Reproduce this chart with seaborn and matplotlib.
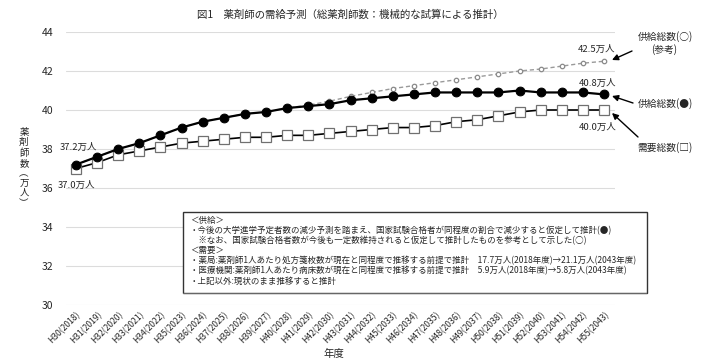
import matplotlib
matplotlib.use('Agg')
import matplotlib.pyplot as plt
from matplotlib.patches import Rectangle
import seaborn as sns
import pandas as pd

# 年度ラベル
years = ['H30(2018)', 'H31(2019)', 'H32(2020)', 'H33(2021)', 'H34(2022)', 'H35(2023)',
         'H36(2024)', 'H37(2025)', 'H38(2026)', 'H39(2027)', 'H40(2028)', 'H41(2029)',
         'H42(2030)', 'H43(2031)', 'H44(2032)', 'H45(2033)', 'H46(2034)', 'H47(2035)',
         'H48(2036)', 'H49(2037)', 'H50(2038)', 'H51(2039)', 'H52(2040)', 'H53(2041)',
         'H54(2042)', 'H55(2043)']

supply = [37.2, 37.6, 38.0, 38.3, 38.7, 39.1, 39.4, 39.6, 39.8, 39.9, 40.1, 40.2, 40.3,
          40.5, 40.6, 40.7, 40.8, 40.9, 40.9, 40.9, 40.9, 41.0, 40.9, 40.9, 40.9, 40.8]
supply_ref = [37.2, 37.6, 38.0, 38.3, 38.7, 39.1, 39.4, 39.6, 39.8, 39.9, 40.1, 40.25, 40.45,
              40.7, 40.9, 41.1, 41.25, 41.4, 41.55, 41.7, 41.85, 42.0, 42.1, 42.25, 42.4, 42.5]
demand = [37.0, 37.3, 37.7, 37.9, 38.1, 38.3, 38.4, 38.5, 38.6, 38.6, 38.7, 38.7, 38.8,
          38.9, 39.0, 39.1, 39.1, 39.2, 39.4, 39.5, 39.7, 39.9, 40.0, 40.0, 40.0, 40.0]

yticks = [30, 32, 34, 36, 38, 40, 42, 44]

note_lines = [
    '＜供給＞',
    '・今後の大学進学予定者数の減少予測を踏まえ、国家試験合格者が同程度の割合で減少すると仮定して推計(●)',
    '　※なお、国家試験合格者数が今後も一定数維持されると仮定して推計したものを参考として示した(○)',
    '＜需要＞',
    '・薬局:薬剤師1人あたり処方箋枚数が現在と同程度で推移する前提で推計　17.7万人(2018年度)→21.1万人(2043年度)',
    '・医療機関:薬剤師1人あたり病床数が現在と同程度で推移する前提で推計　5.9万人(2018年度)→5.8万人(2043年度)',
    '・上記以外:現状のまま推移すると推計',
]

df = pd.DataFrame({'x': range(len(years)), 'supply': supply,
                   'ref': supply_ref, 'demand': demand})

sns.set_theme(style='white')
plt.rcParams['font.family'] = ['Noto Sans CJK JP', 'DejaVu Sans']

W, H = 707, 362
fig = plt.figure(figsize=(W / 100, H / 100), dpi=100)
ax = fig.add_axes([66 / W, 1 - 305 / H, (615 - 66) / W, (305 - 32) / H])

sns.lineplot(data=df, x='x', y='ref', ax=ax, color='#9a9a9a', lw=1.0,
             linestyle=(0, (3, 2)), marker='o', markersize=3.2,
             markerfacecolor='white', markeredgecolor='#8a8a8a', markeredgewidth=0.9)
sns.lineplot(data=df, x='x', y='demand', ax=ax, color='black', lw=1.2,
             marker='s', markersize=6.8, markerfacecolor='white',
             markeredgecolor='#707070', markeredgewidth=0.9)
sns.lineplot(data=df, x='x', y='supply', ax=ax, color='black', lw=1.6,
             marker='o', markersize=6.3, markerfacecolor='black', markeredgecolor='black')

ax.set_xlim(-0.47, len(years) - 0.48)
ax.set_ylim(30, 44)
ax.set_yticks(yticks)
ax.set_yticklabels([str(v) for v in yticks], fontsize=7.5)
ax.set_xticks(range(len(years)))
ax.set_xticklabels(years, rotation=45, ha='right', rotation_mode='anchor', fontsize=6.2)
ax.tick_params(axis='x', length=0, pad=4)
ax.tick_params(axis='y', length=0, pad=9)
ax.yaxis.grid(True, color='#dcdcdc', lw=0.8)
ax.xaxis.grid(False)
for s in ax.spines.values():
    s.set_visible(False)
ax.set_xlabel('')
ax.set_ylabel('')

# 端点ラベル
last = len(years) - 1
ax.annotate(f'{supply[0]:.1f}万人', (0, supply[0]), xytext=(3, 17), textcoords='offset pixels',
            ha='center', va='center', fontsize=6.8)
ax.annotate(f'{demand[0]:.1f}万人', (0, demand[0]), xytext=(1, -17), textcoords='offset pixels',
            ha='center', va='center', fontsize=6.8)
ax.annotate(f'{supply_ref[last]:.1f}万人', (last, supply_ref[last]), xytext=(-7, 12),
            textcoords='offset pixels', ha='center', va='center', fontsize=6.8)
ax.annotate(f'{supply[last]:.1f}万人', (last, supply[last]), xytext=(-6, 11),
            textcoords='offset pixels', ha='center', va='center', fontsize=6.8)
ax.annotate(f'{demand[last]:.1f}万人', (last, demand[last]), xytext=(-6, -17),
            textcoords='offset pixels', ha='center', va='center', fontsize=6.8)

# 右側の凡例注記
arrow = dict(arrowstyle='-|>', color='black', lw=1.0, mutation_scale=9, shrinkA=0, shrinkB=0)
ax.annotate('', xy=(612 / W, 1 - 60 / H), xytext=(632 / W, 1 - 51 / H),
            xycoords='figure fraction', textcoords='figure fraction', arrowprops=arrow)
ax.annotate('', xy=(612 / W, 1 - 96 / H), xytext=(633 / W, 1 - 103 / H),
            xycoords='figure fraction', textcoords='figure fraction', arrowprops=arrow)
ax.annotate('', xy=(612 / W, 1 - 113 / H), xytext=(638 / W, 1 - 137 / H),
            xycoords='figure fraction', textcoords='figure fraction', arrowprops=arrow)
fig.text(665 / W, 1 - 37 / H, '供給総数(○)', ha='center', va='center', fontsize=7)
fig.text(664 / W, 1 - 50 / H, '(参考)', ha='center', va='center', fontsize=7)
fig.text(665 / W, 1 - 104 / H, '供給総数(●)', ha='center', va='center', fontsize=7)
fig.text(665 / W, 1 - 148 / H, '需要総数(□)', ha='center', va='center', fontsize=7)

# タイトル・軸ラベル
fig.text(350 / W, 1 - 15 / H, '図1　薬剤師の需給予測（総薬剤師数：機械的な試算による推計）',
         ha='center', va='center', fontsize=7.5)
fig.text(24 / W, 1 - 168 / H, '薬\n剤\n師\n数\n︵\n万\n人\n︶', ha='center', va='center',
         fontsize=6.8, linespacing=1.15)
fig.text(334 / W, 1 - 354 / H, '年度', ha='center', va='center', fontsize=7.5)

# 注記ボックス
fig.patches.append(Rectangle((183 / W, 1 - 293 / H), (647 - 183) / W, (293 - 212) / H,
                             transform=fig.transFigure, facecolor='white',
                             edgecolor='#333333', lw=1.0, zorder=5))
fig.patches.append(Rectangle((183 / W, 1 - 294 / H), (647 - 183) / W, 1.5 / H,
                             transform=fig.transFigure, facecolor='#666666',
                             edgecolor='none', zorder=6))
for i, line in enumerate(note_lines):
    fig.text(190 / W, 1 - (220 + i * 10.2) / H, line, ha='left', va='center',
             fontsize=6.1, zorder=7)

fig.savefig('out.png', dpi=100)
